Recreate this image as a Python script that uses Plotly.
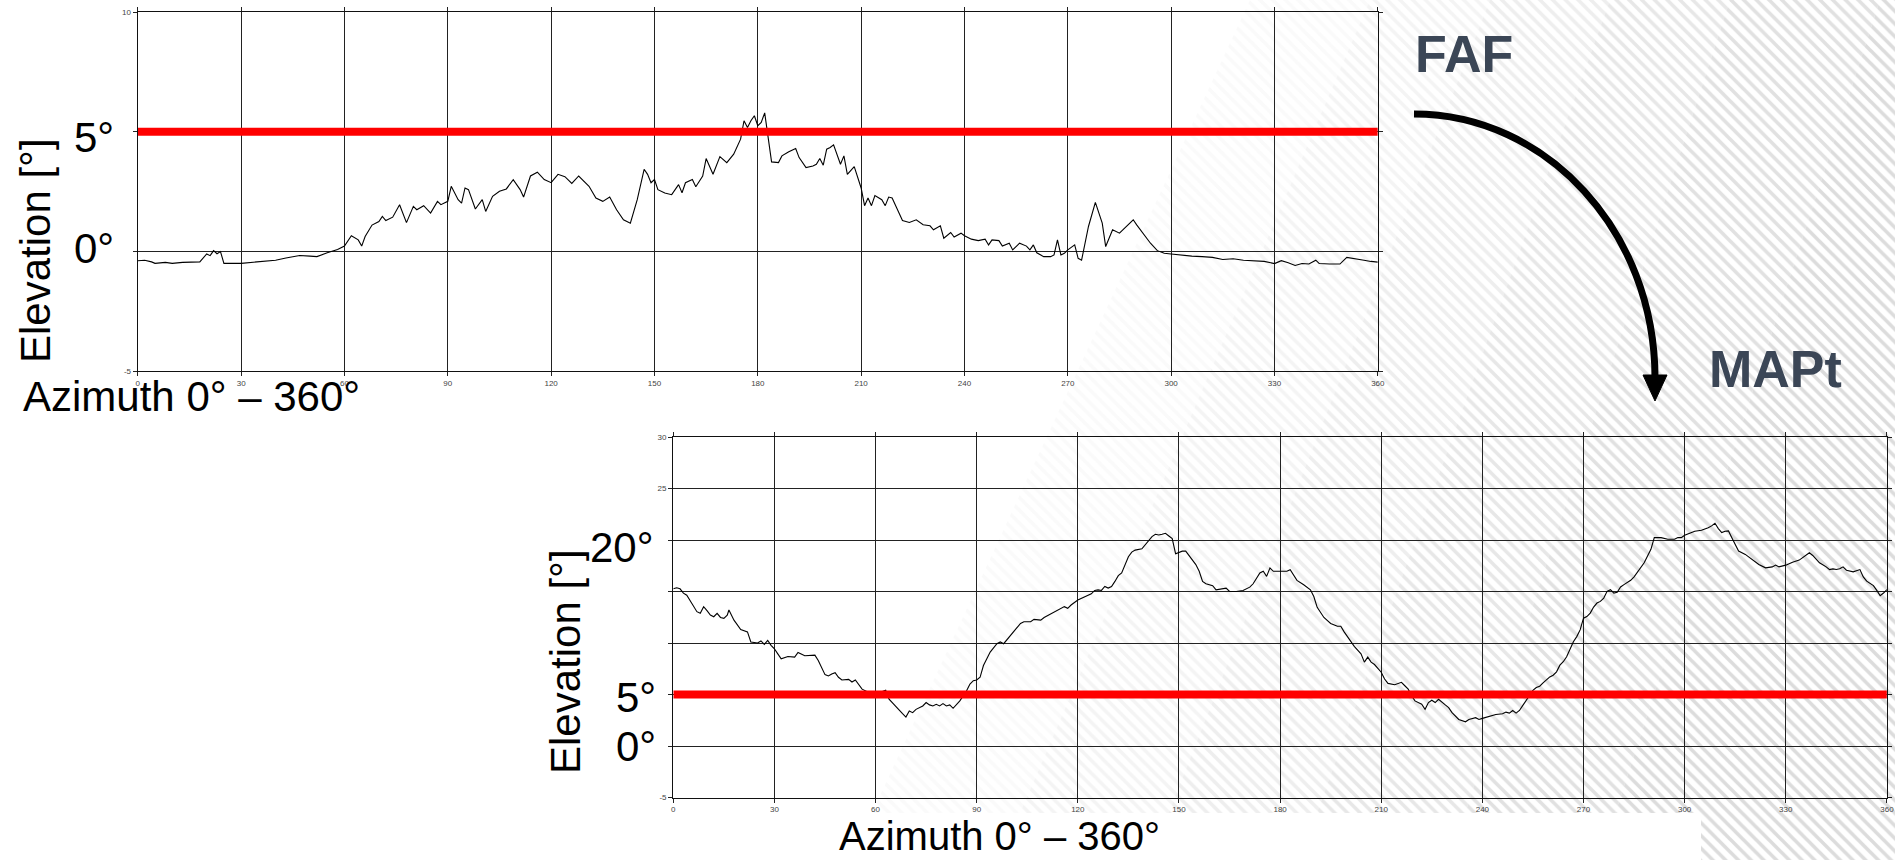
import plotly.graph_objects as go

W, H = 1895, 860

# ---------------- data ----------------
# Terrain elevation profile seen from the FAF (degrees)
faf_az = [0, 2, 4, 5, 8, 10, 13, 18, 20, 21, 22, 23, 24, 25, 30, 35, 40, 43, 47, 50,
          52, 55, 58, 60, 62, 64, 65, 66, 68, 70, 71, 72, 74, 76, 78, 80, 81, 83, 85, 87,
          88, 90, 91, 93, 94, 95, 96, 98, 100, 101, 103, 105, 107, 109, 111, 112, 114, 116, 118, 120,
          122, 124, 126, 128, 129, 131, 133, 135, 137, 139, 141, 143, 145, 147, 148, 149, 150, 151, 153, 155,
          157, 158, 159, 161, 162, 164, 165, 167, 169, 171, 173, 175, 176, 177, 178, 179, 180, 181, 182, 183,
          184, 186, 187, 189, 191, 192, 194, 196, 197, 198, 199, 200, 201, 202, 204, 205, 206, 208, 210, 211,
          212, 213, 214, 216, 217, 218, 219, 221, 222, 224, 226, 228, 230, 231, 233, 234, 236, 237, 239, 240,
          242, 244, 246, 247, 248, 250, 251, 253, 254, 256, 258, 259, 260, 261, 263, 265, 266, 267, 268, 269,
          270, 272, 273, 274, 276, 278, 280, 281, 283, 285, 286, 287, 288, 289, 290, 292, 294, 296, 298, 300,
          303, 306, 309, 312, 315, 318, 321, 324, 327, 330, 332, 334, 336, 338, 340, 342, 343, 346, 349, 351,
          353, 356, 358, 360]
faf_el = [-0.39, -0.37, -0.44, -0.50, -0.46, -0.50, -0.46, -0.44, -0.11, -0.18, 0.03, -0.10, -0.01, -0.50, -0.50, -0.44, -0.37, -0.28, -0.17, -0.20,
          -0.22, -0.06, 0.08, 0.22, 0.65, 0.48, 0.22, 0.62, 1.10, 1.25, 1.46, 1.29, 1.43, 1.95, 1.20, 1.88, 1.74, 1.91, 1.60, 2.09,
          1.95, 2.09, 2.72, 2.16, 2.02, 2.65, 2.58, 1.77, 2.16, 1.67, 2.30, 2.51, 2.61, 3.00, 2.58, 2.27, 3.15, 3.31, 3.00, 2.87,
          3.22, 3.12, 2.84, 3.15, 3.00, 2.72, 2.23, 2.09, 2.27, 1.74, 1.32, 1.18, 2.16, 3.43, 3.22, 2.87, 3.00, 2.58, 2.44, 2.37,
          2.79, 2.45, 2.87, 3.00, 2.70, 3.15, 3.88, 3.22, 3.96, 3.71, 4.06, 4.69, 5.46, 5.18, 5.46, 5.67, 5.25, 5.39, 5.79, 4.83,
          3.74, 3.71, 3.99, 4.16, 4.30, 3.92, 3.50, 3.57, 3.64, 3.88, 3.60, 4.27, 4.34, 4.45, 3.64, 3.99, 3.22, 3.54, 2.65, 1.91,
          2.23, 1.91, 2.33, 2.16, 1.91, 2.27, 2.23, 1.60, 1.29, 1.21, 1.32, 1.11, 1.07, 0.90, 1.07, 0.55, 0.79, 0.60, 0.76, 0.65,
          0.51, 0.45, 0.51, 0.27, 0.48, 0.45, 0.22, 0.34, 0.06, 0.34, 0.22, 0.06, 0.27, -0.06, -0.22, -0.22, -0.15, 0.48, -0.15, -0.08,
          0.06, 0.27, -0.29, -0.37, 1.04, 2.05, 1.18, 0.20, 0.90, 0.76, 0.90, 1.04, 1.18, 1.32, 1.11, 0.73, 0.34, 0.03, -0.08, -0.11,
          -0.17, -0.20, -0.22, -0.25, -0.34, -0.31, -0.37, -0.39, -0.42, -0.51, -0.39, -0.48, -0.59, -0.51, -0.53, -0.37, -0.51, -0.53, -0.53, -0.25,
          -0.31, -0.37, -0.42, -0.45]

# Terrain elevation profile seen from the MAPt (degrees)
mapt_az = [0, 1, 2, 3, 4, 5, 7, 8, 9, 10, 11, 12, 13, 14, 15, 16, 16.5, 18, 20, 22,
           23, 25, 26, 27, 28, 29, 30, 31, 32, 34, 36, 37, 39, 42, 43, 45, 46, 47, 48, 49,
           50, 52, 53, 54, 56, 58, 60, 62, 63, 64, 66, 68, 69, 70, 71, 72, 74, 75, 76, 77,
           78, 79, 80, 81, 82, 83, 85, 87, 88, 89, 90, 91, 92, 94, 96, 97, 98, 100, 102, 103,
           104, 106, 107, 109, 110, 112, 114, 116, 117, 118, 120, 122, 124, 125, 126, 127, 128, 129, 130, 131,
           132, 133, 134, 135, 136, 137, 139, 140, 141, 142, 143, 144, 145, 146, 147, 148, 149, 150, 151, 152,
           153, 154, 155, 156, 157, 158, 159, 160, 161, 162, 163, 164, 165, 167, 169, 171, 172, 173, 174, 175,
           176, 177, 178, 180, 182, 183, 184, 185, 187, 189, 190, 191, 193, 195, 197, 198, 199, 200, 202, 204,
           205, 206, 207, 208, 210, 211, 212, 214, 215, 216, 217, 218, 219, 220, 222, 223, 224, 225, 226, 227,
           229, 230, 231, 233, 235, 236, 238, 239, 240, 242, 244, 246, 247, 248, 249, 250, 251, 252, 253, 254,
           255, 256, 257, 258, 259, 260, 261, 262, 263, 264, 265, 266, 267, 268, 269, 270, 271, 272, 273, 274,
           275, 276, 277, 278, 279, 280, 281, 282, 283, 284, 285, 286, 287, 288, 289, 290, 291, 293, 295, 297,
           298, 299, 300, 302, 303, 305, 306, 307, 308, 309, 310, 311, 312, 313, 314, 316, 318, 320, 322, 324,
           326, 327, 328, 330, 332, 334, 336, 337, 338, 339, 340, 342, 343, 344, 345, 346, 347, 348, 350, 352,
           353, 354, 356, 357, 358, 359, 360]
mapt_el = [15.26, 15.36, 15.26, 14.84, 14.64, 14.12, 13.04, 12.88, 13.53, 13.14, 12.71, 12.55, 12.88, 12.48, 12.39, 12.71, 13.20, 12.22, 11.31, 11.08,
           10.10, 10.00, 10.20, 9.87, 10.26, 9.77, 9.44, 8.95, 8.46, 8.69, 8.63, 9.08, 8.76, 8.82, 8.30, 6.93, 6.80, 6.99, 7.12, 6.67,
           6.41, 6.47, 6.21, 6.41, 5.52, 5.20, 5.13, 5.30, 5.42, 4.54, 3.89, 3.14, 2.81, 3.40, 3.24, 3.56, 3.89, 4.22, 3.99, 3.89,
           4.05, 3.89, 4.12, 3.89, 3.99, 3.66, 4.38, 5.36, 6.01, 6.34, 6.41, 6.67, 7.81, 9.12, 9.93, 10.10, 9.93, 10.75, 11.50, 11.90,
           12.06, 12.06, 12.29, 12.22, 12.48, 12.81, 13.20, 13.53, 13.37, 13.69, 14.18, 14.44, 14.77, 15.10, 15.16, 15.10, 15.49, 15.33, 15.49, 15.98,
           16.54, 16.80, 17.61, 18.37, 18.82, 19.02, 19.15, 19.58, 19.90, 20.33, 20.56, 20.49, 20.56, 20.65, 20.39, 20.13, 18.66, 18.82, 18.92, 18.92,
           18.50, 18.10, 17.61, 16.96, 15.98, 15.75, 15.65, 15.56, 15.16, 15.23, 15.33, 15.33, 15.00, 15.00, 15.10, 15.42, 15.75, 16.31, 16.80, 16.96,
           16.47, 17.29, 16.96, 16.96, 16.96, 17.12, 16.63, 16.08, 15.65, 15.16, 14.51, 13.46, 12.48, 11.90, 11.63, 11.63, 11.08, 10.59, 9.67, 8.95,
           8.14, 8.63, 8.14, 7.91, 7.16, 6.50, 6.08, 5.95, 6.08, 6.18, 5.85, 5.52, 4.87, 4.38, 4.05, 3.56, 4.22, 4.44, 4.22, 4.54,
           3.99, 3.73, 3.24, 2.58, 2.35, 2.58, 2.75, 2.58, 2.68, 2.85, 3.06, 3.13, 3.29, 3.19, 3.45, 3.19, 3.45, 3.94, 4.43, 4.92,
           5.41, 5.67, 5.80, 6.12, 6.45, 6.71, 6.87, 7.20, 7.85, 8.18, 8.66, 9.32, 10.13, 10.62, 11.27, 12.41, 12.57, 12.90, 13.49, 13.88,
           14.04, 14.36, 15.02, 15.18, 14.85, 14.92, 15.44, 15.67, 15.90, 16.09, 16.42, 16.87, 17.30, 17.79, 18.44, 19.09, 20.23, 20.23, 20.07, 20.07,
           20.23, 20.23, 20.46, 20.72, 20.85, 20.94, 21.04, 21.20, 21.37, 21.63, 21.11, 20.72, 20.85, 20.88, 20.23, 18.93, 18.60, 18.11, 17.62, 17.30,
           17.39, 17.56, 17.39, 17.56, 17.85, 18.05, 18.50, 18.76, 18.50, 18.11, 17.79, 17.39, 17.13, 17.20, 17.13, 17.20, 17.39, 17.07, 16.91, 17.13,
           16.42, 16.00, 15.57, 15.11, 14.59, 14.85, 15.18]

threshold = [5, 5]
threshold_az = [0, 360]

az_ticks = [0, 30, 60, 90, 120, 150, 180, 210, 240, 270, 300, 330, 360]
faf_yticks = [-5, 0, 5, 10]
faf_ytext = ["-5", "", "", "10"]
mapt_yticks = [-5, 0, 5, 10, 15, 20, 25, 30]
mapt_ytext = ["-5", "", "", "", "", "", "25", "30"]

x_title = "Azimuth 0° – 360°"
y_title = "Elevation [°]"

# ---------------- helpers (layout only) ----------------
def fx(px):
    return px / W


def fy(py):
    return 1 - py / H


BIG = "Arial, Liberation Sans, sans-serif"
SMALL = "Liberation Sans Narrow, Arial Narrow, Liberation Sans, Arial, sans-serif"

fig = go.Figure()

# ---- background hatch (fading diagonal stripes) on a page-sized hidden subplot ----
bands = [((1250, 850), (1370, 1000), 0.12),
         ((1370, 1000), (1490, 1150), 0.25),
         ((1490, 1150), (1610, 1300), 0.4),
         ((1610, 1300), (1730, 1450), 0.55),
         ((1730, 1450), (1880, 1600), 0.7),
         ((1880, 1600), (2600, 2600), 0.8)]
for (a0, b0), (a1, b1), op in bands:
    fig.add_trace(go.Scatter(
        x=[a0, a1, b1, b0, a0], y=[0, 0, H, H, 0],
        mode="lines", line=dict(width=0), fill="toself",
        fillcolor="rgba(0,0,0,0)",
        fillpattern=dict(shape="\\", size=9, solidity=0.4,
                         fgcolor="#d4d4d4", bgcolor="rgba(0,0,0,0)", fgopacity=op),
        hoverinfo="skip", showlegend=False, xaxis="x", yaxis="y"))
# white margin of the lower chart picture
fig.add_trace(go.Scatter(
    x=[520, 1701, 1701, 520, 520], y=[813, 813, H, H, 813],
    mode="lines", line=dict(width=0), fill="toself", fillcolor="white",
    hoverinfo="skip", showlegend=False, xaxis="x", yaxis="y"))

# ---- FAF chart ----
fig.add_trace(go.Scatter(x=faf_az, y=faf_el, mode="lines",
                         line=dict(color="black", width=1.1),
                         showlegend=False, xaxis="x2", yaxis="y2"))
fig.add_trace(go.Scatter(x=threshold_az, y=threshold, mode="lines",
                         line=dict(color="#ff0000", width=8),
                         showlegend=False, xaxis="x2", yaxis="y2"))

# ---- MAPt chart ----
fig.add_trace(go.Scatter(x=mapt_az, y=mapt_el, mode="lines",
                         line=dict(color="black", width=1.1),
                         showlegend=False, xaxis="x3", yaxis="y3"))
fig.add_trace(go.Scatter(x=threshold_az, y=threshold, mode="lines",
                         line=dict(color="#ff0000", width=8),
                         showlegend=False, xaxis="x3", yaxis="y3"))

common = dict(showgrid=True, gridcolor="#222222", gridwidth=1.3,
              showline=True, linecolor="#111111", linewidth=1.4,
              mirror="allticks", ticks="outside", ticklen=4, tickcolor="#222222",
              tickfont=dict(family=SMALL, size=8, color="#444444"),
              zeroline=False, fixedrange=True, automargin=False)

fig.update_layout(
    width=W, height=H,
    margin=dict(l=0, r=0, t=0, b=0, pad=0, autoexpand=False),
    paper_bgcolor="white", plot_bgcolor="rgba(0,0,0,0)",
    showlegend=False,
    xaxis=dict(domain=[0, 1], range=[0, W], visible=False, fixedrange=True, automargin=False),
    yaxis=dict(domain=[0, 1], range=[H, 0], visible=False, fixedrange=True, automargin=False),
    xaxis2=dict(domain=[fx(137.8), fx(1377.8)], range=[0, 360], anchor="y2",
                tickmode="array", tickvals=az_ticks, **common),
    yaxis2=dict(domain=[fy(371), fy(12.1)], range=[-5, 10], anchor="x2",
                tickmode="array", tickvals=faf_yticks, ticktext=faf_ytext, **common),
    xaxis3=dict(domain=[fx(673.3), fx(1886.9)], range=[0, 360], anchor="y3",
                tickmode="array", tickvals=az_ticks, **common),
    yaxis3=dict(domain=[fy(797.5), fy(437)], range=[-5, 30], anchor="x3",
                tickmode="array", tickvals=mapt_yticks, ticktext=mapt_ytext, **common),
)


def label(text, cx, cy, size, angle=0, xanchor="center", color="black", weight="normal"):
    fig.add_annotation(text=text, x=fx(cx), y=fy(cy), xref="paper", yref="paper",
                       xanchor=xanchor, yanchor="middle", showarrow=False,
                       textangle=angle,
                       font=dict(family=BIG, size=size, color=color, weight=weight))


# top chart labels
label(y_title, 35, 251, 42, angle=-90)
label("5°", 94, 137, 42)
label("0°", 94, 249, 42)
label(x_title, 21, 396, 42, xanchor="left")
# bottom chart labels
label(y_title, 565, 662, 42, angle=-90)
label("20°", 622, 547, 42)
label("5°", 636, 697, 42)
label("0°", 636, 746, 42)
label(x_title, 837, 836, 40, xanchor="left")
# FAF / MAPt
label("FAF", 1464, 54, 52, color="#3b4656", weight="bold")
label("MAPt", 1775, 369, 52, color="#3b4656", weight="bold")

# curved arrow FAF -> MAPt (quarter ellipse as a cubic Bezier)
sx, sy = 1414, 114
ex, ey = 1655, 378
k = 0.5523
c1x, c1y = sx + k * (ex - sx), sy
c2x, c2y = ex, ey - k * (ey - sy)
fig.add_shape(type="path", xref="paper", yref="paper",
              path=f"M {fx(sx)},{fy(sy)} C {fx(c1x)},{fy(c1y)} {fx(c2x)},{fy(c2y)} {fx(ex)},{fy(ey)}",
              line=dict(color="black", width=7))
fig.add_shape(type="path", xref="paper", yref="paper",
              path=f"M {fx(1643)},{fy(375)} L {fx(1667)},{fy(375)} L {fx(1655)},{fy(401)} Z",
              fillcolor="black", line=dict(color="black", width=1))

# the page itself gets no default body margin so the figure fills the window exactly
fig.write_html("out.html", config={"displayModeBar": False},
               post_script="document.body.style.margin='0px';document.body.style.overflow='hidden';")
